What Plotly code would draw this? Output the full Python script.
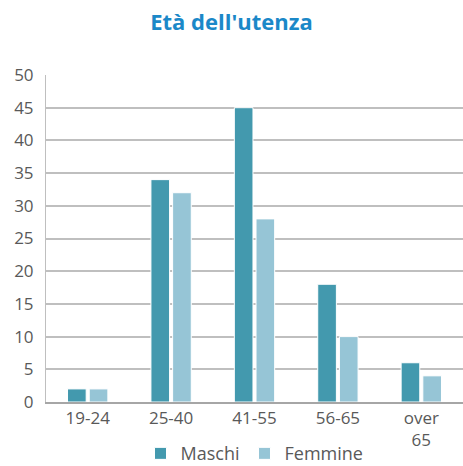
import plotly.graph_objects as go

categories = ["19-24", "25-40", "41-55", "56-65", "over<br>65"]
maschi = [2, 34, 45, 18, 6]
femmine = [2, 32, 28, 10, 4]
y_ticks = [0, 5, 10, 15, 20, 25, 30, 35, 40, 45, 50]

font_fam = "Open Sans, sans-serif"
grey = "#595959"

fig = go.Figure()
fig.add_trace(go.Bar(name="Maschi", x=categories, y=maschi,
                     marker=dict(color="#4399AE", line=dict(color="white", width=1))))
fig.add_trace(go.Bar(name="Femmine", x=categories, y=femmine,
                     marker=dict(color="#96C5D6", line=dict(color="white", width=1))))

fig.update_layout(
    width=463, height=466,
    margin=dict(l=46, r=0, t=75, b=64, autoexpand=False),
    paper_bgcolor="white", plot_bgcolor="white",
    barmode="group", bargap=0.48, bargroupgap=0.14,
    title=dict(text="<b>Età dell'utenza</b>", x=0.5, xanchor="center", y=0.953, yanchor="middle",
               font=dict(family=font_fam, size=22, color="#1B88C8")),
    font=dict(family=font_fam, size=17, color=grey),
    legend=dict(orientation="h", x=0.5, xanchor="center", y=-0.158, yanchor="middle",
                font=dict(size=18, color=grey), itemwidth=30, traceorder="normal"),
    xaxis=dict(showgrid=False, showline=True, linecolor="#A6A6A6", linewidth=1.5,
               automargin=False, ticks="", tickfont=dict(size=17, color=grey)),
    yaxis=dict(range=[0, 50], tickvals=y_ticks, showgrid=True, gridcolor="#BFBFBF", gridwidth=1.5,
               automargin=False, zeroline=False, showline=True, linecolor="#BFBFBF", ticks="",
               ticklabelstandoff=8, tickfont=dict(size=17, color=grey)),
)

fig.write_html("out.html")
